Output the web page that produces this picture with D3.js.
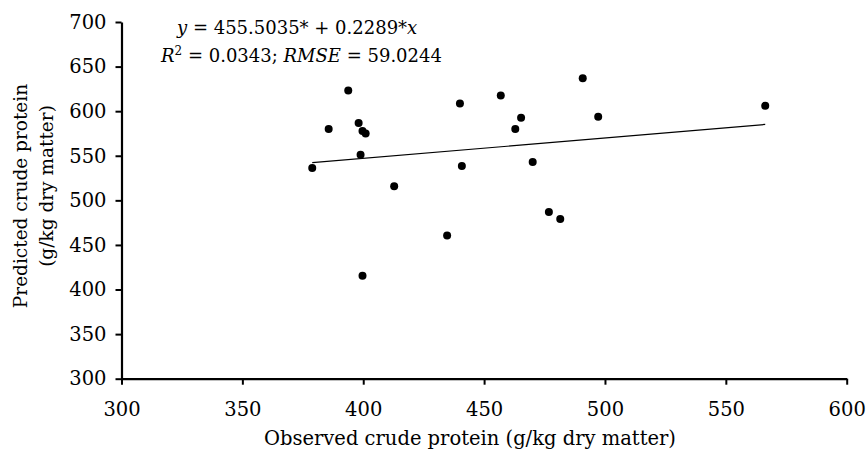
<!DOCTYPE html>
<html>
<head>
<meta charset="utf-8">
<script src="https://cdn.jsdelivr.net/npm/d3@7"></script>
<style>
  body { margin: 0; background: #fff; }
  text { font-family: 'DejaVu Serif', serif; }
</style>
</head>
<body>
<svg id="chart"></svg>
<script>
const observed = [393.8, 385.7, 398.1, 399.7, 401.0, 398.9, 378.9, 412.8, 434.7, 399.7,
  490.8, 440.0, 456.9, 465.3, 462.9, 497.2, 566.3, 440.8, 470.1, 476.8, 481.5];
const predicted = [623.3, 580.0, 586.6, 577.7, 575.1, 551.1, 536.2, 515.7, 460.5, 415.5,
  637.0, 608.7, 617.7, 592.6, 580.0, 593.7, 606.0, 538.4, 542.9, 486.9, 479.0];

const xTicks = [300, 350, 400, 450, 500, 550, 600];
const yTicks = [300, 350, 400, 450, 500, 550, 600, 650, 700];

const intercept = 455.5035;
const slope = 0.2289;

const margin = {top:22, bottom:71.3, left:121.5, right:19.3};
const width = 866 - margin.left - margin.right;
const height = 450 - margin.top - margin.bottom;

const svg = d3.select('#chart')
.attr('width', 866)
.attr('height', 450)
.append('g')
.attr('transform', `translate(${margin.left}, ${margin.top})`);

const data = observed.map((d,i) => ({obs: d, pred: predicted[i]}));

const x = d3.scaleLinear()
.domain([300, 600])
.range([0, width]);

const y = d3.scaleLinear()
.domain([300, 700])
.range([height, 0]);

const xAxis = svg.append('g')
.attr('transform', `translate(0,${height})`)
.call(d3.axisBottom(x).tickValues(xTicks).tickSize(6).tickSizeOuter(0).tickPadding(17));

const yAxis = svg.append('g')
.call(d3.axisLeft(y).tickValues(yTicks).tickSize(6).tickSizeOuter(0).tickPadding(9));

[xAxis, yAxis].forEach(a => {
  a.select('.domain').attr('stroke-width', 2.2);
  a.selectAll('.tick line').attr('stroke-width', 2);
  a.selectAll('.tick text')
  .style('font-family', "'DejaVu Serif', serif")
  .style('font-size', '19.5px')
  .attr('fill', '#000');
});

// regression line over the range of observed values
const xr = d3.extent(observed);
const line = d3.line()
.x(d => x(d))
.y(d => y(intercept + slope * d));

svg.append('path')
.datum(xr)
.attr('fill','none')
.attr('stroke','#000')
.attr('stroke-width',1.2)
.attr('d', line);

svg.selectAll('circle')
.data(data)
.enter()
.append('circle')
.attr('cx', d => x(d.obs))
.attr('cy', d => y(d.pred))
.attr('r', 4)
.attr('fill', '#000');

// equation
const eq = svg.append('text')
.attr('x', 55.5)
.attr('y', 12)
.style('font-size', '18px');
eq.append('tspan').style('font-style','italic').text('y');
eq.append('tspan').text(' = 455.5035* + 0.2289*');
eq.append('tspan').style('font-style','italic').text('x');

const eq2 = svg.append('text')
.attr('x', 39.5)
.attr('y', 40)
.style('font-size', '18px');
eq2.append('tspan').style('font-style','italic').text('R');
eq2.append('tspan').attr('dy', -7).style('font-size','12px').text('2');
eq2.append('tspan').attr('dy', 7).text(' = 0.0343; ');
eq2.append('tspan').style('font-style','italic').text('RMSE');
eq2.append('tspan').text(' = 59.0244');

// axis titles
svg.append('text')
.attr('x', 470 - margin.left)
.attr('y', height + 66)
.attr('text-anchor', 'middle')
.style('font-size', '19.5px')
.text('Observed crude protein (g/kg dry matter)');

const yTitle = svg.append('text')
.attr('transform', `translate(${-margin.left + 27}, ${196 - margin.top}) rotate(-90)`)
.attr('text-anchor', 'middle')
.style('font-size', '18.5px');
yTitle.append('tspan').attr('x', 0).attr('y', 0).text('Predicted crude protein');
yTitle.append('tspan').attr('x', 10).attr('y', 26).text('(g/kg dry matter)');
</script>
</body>
</html>
